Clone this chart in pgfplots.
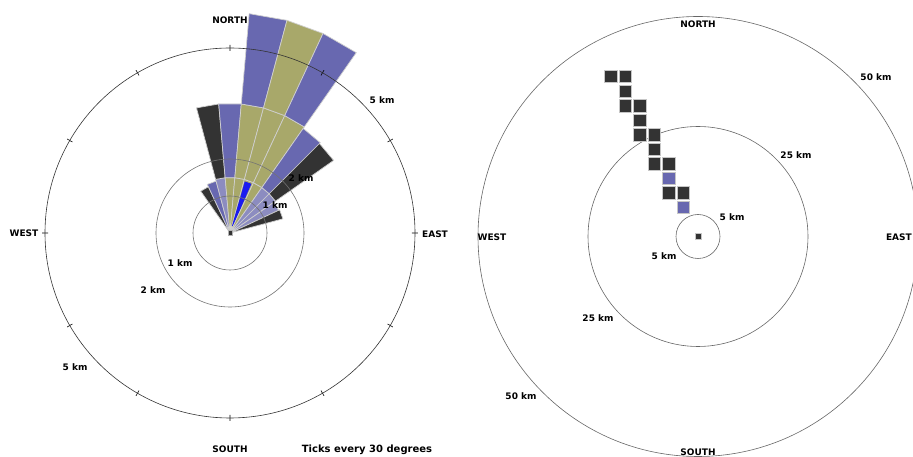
\documentclass[border=0pt]{standalone}
\usepackage{fontspec}
\setmainfont{DejaVu Sans}
\usepackage{pgfplots}
\pgfplotsset{compat=1.18}
\usepgfplotslibrary{polar}

\definecolor{wblue}{HTML}{6868B0}
\definecolor{wkhaki}{HTML}{A8A86A}
\definecolor{wdark}{HTML}{333333}
\definecolor{wlav}{HTML}{8C8CC0}
\definecolor{wbright}{HTML}{1A1AF0}
\definecolor{wline}{HTML}{CFCFCF}

\pgfplotsset{
  wedge/.style={draw=wline, line width=0.7pt},
}
\tikzset{
  lbl/.style={font=\bfseries\fontsize{9}{10}\selectfont, inner sep=0pt},
}

\begin{document}
\begin{tikzpicture}[x=1pt,y=1pt]
\useasboundingbox (0,0) rectangle (913,457);
\clip (0,0) rectangle (913,457);

% ---------------- left chart (compass bins of 10 degrees, radius in km) -------------
\begin{polaraxis}[
  at={(230pt,224pt)}, anchor=center,
  scale only axis, width=370pt, height=370pt,
  xmin=0, xmax=360, ymin=0, ymax=5,
  xtick={0,30,...,330}, xticklabels={},
  ytick={1,2}, yticklabels={},
  xmajorgrids=false, xminorgrids=false, ymajorgrids=true,
  y grid style={black!55, line width=0.6pt},
  x axis line style={black!80, line width=0.6pt},
  y axis line style={draw=none},
  xtick style={black, line width=0.6pt},
  ytick style={draw=none},
  major tick length=6pt, tick align=center,
  clip=false, axis on top,
]
% bin -30
\addplot[wedge, fill=wdark]  coordinates {(125,0) (125,1.38) (115,1.38) (115,0)} --cycle;
% bin -20
\addplot[wedge, fill=wblue]  coordinates {(115,0) (115,1.45) (105,1.45) (105,0)} --cycle;
% bin -10
\addplot[wedge, fill=wlav]   coordinates {(105,0) (105,1.5) (95,1.5) (95,0)} --cycle;
\addplot[wedge, fill=wdark]  coordinates {(105,1.5) (105,3.5) (95,3.5) (95,1.5)} --cycle;
% bin 0
\addplot[wedge, fill=wkhaki] coordinates {(95,0) (95,1.5) (85,1.5) (85,0)} --cycle;
\addplot[wedge, fill=wblue]  coordinates {(95,1.5) (95,3.5) (85,3.5) (85,1.5)} --cycle;
% bin 10
\addplot[wedge, fill=wkhaki] coordinates {(85,0) (85,1.5) (75,1.5) (75,0)} --cycle;
\addplot[wedge, fill=wkhaki] coordinates {(85,1.5) (85,3.5) (75,3.5) (75,1.5)} --cycle;
\addplot[wedge, fill=wblue]  coordinates {(85,3.5) (85,5.95) (75,5.95) (75,3.5)} --cycle;
% bin 20
\addplot[wedge, fill=wkhaki] coordinates {(75,0) (75,1.5) (65,1.5) (65,0)} --cycle;
\addplot[wedge, fill=wkhaki] coordinates {(75,1.5) (75,3.5) (65,3.5) (65,1.5)} --cycle;
\addplot[wedge, fill=wkhaki] coordinates {(75,3.5) (75,5.95) (65,5.95) (65,3.5)} --cycle;
\addplot[draw=none, fill=wbright] coordinates {(74,0.2) (74,1.45) (66.5,1.45) (66.5,0.2)} --cycle;
% bin 30
\addplot[wedge, fill=wkhaki] coordinates {(65,0) (65,1.5) (55,1.5) (55,0)} --cycle;
\addplot[wedge, fill=wkhaki] coordinates {(65,1.5) (65,3.5) (55,3.5) (55,1.5)} --cycle;
\addplot[wedge, fill=wblue]  coordinates {(65,3.5) (65,5.95) (55,5.95) (55,3.5)} --cycle;
% bin 40
\addplot[wedge, fill=wlav]   coordinates {(55,0) (55,1.5) (45,1.5) (45,0)} --cycle;
\addplot[wedge, fill=wblue]  coordinates {(55,1.5) (55,3.45) (45,3.45) (45,1.5)} --cycle;
% bin 50
\addplot[wedge, fill=wlav]   coordinates {(45,0) (45,1.5) (35,1.5) (35,0)} --cycle;
\addplot[wedge, fill=wdark]  coordinates {(45,1.5) (45,3.42) (35,3.42) (35,1.5)} --cycle;
% bin 60
\addplot[wedge, fill=wlav]   coordinates {(35,0) (35,1.45) (25,1.45) (25,0)} --cycle;
% bin 70
\addplot[wedge, fill=wdark]  coordinates {(25,0) (25,1.48) (15,1.48) (15,0)} --cycle;
% centre
\addplot[only marks, mark=square*, mark size=2.2pt, mark options={fill=wdark, draw=gray!60, line width=0.6pt}] coordinates {(0,0)};
\end{polaraxis}

% ---------------- right chart (cells, x/y in km) -------------
\begin{polaraxis}[
  at={(698pt,220.5pt)}, anchor=center,
  scale only axis, width=440pt, height=440pt,
  xmin=0, xmax=360, ymin=0, ymax=50,
  xtick=\empty,
  ytick={5,25}, yticklabels={},
  xmajorgrids=false, xminorgrids=false, ymajorgrids=true,
  y grid style={black!60, line width=0.6pt},
  x axis line style={black!60, line width=0.6pt},
  y axis line style={draw=none},
  ytick style={draw=none},
  clip=false,
]
\addplot[data cs=cart, only marks, mark=square*, mark size=6.2pt,
  mark options={fill=wdark, draw=gray!45, line width=1pt}] coordinates {
  (-3.3,9.9) (-6.6,9.9) (-6.6,16.5) (-9.9,16.5) (-9.9,19.8) (-9.9,23.1)
  (-13.2,23.1) (-13.2,26.4) (-13.2,29.7) (-16.5,29.7) (-16.5,33.0)
  (-16.5,36.3) (-19.8,36.3)
};
\addplot[data cs=cart, only marks, mark=square*, mark size=6.2pt,
  mark options={fill=wblue, draw=gray!45, line width=1pt}] coordinates {
  (-3.3,6.6) (-6.6,13.2)
};
\addplot[data cs=cart, only marks, mark=square*, mark size=3pt,
  mark options={fill=wdark, draw=gray!45, line width=0.8pt}] coordinates {(0,0)};
\end{polaraxis}

% ---------------- labels -------------
\node[lbl] at (230,437) {NORTH};
\node[lbl] at (230,8) {SOUTH};
\node[lbl] at (24,224) {WEST};
\node[lbl] at (435,223) {EAST};
\node[lbl] at (180,194) {1 km};
\node[lbl] at (153,167) {2 km};
\node[lbl] at (75,90) {5 km};
\node[lbl] at (275,252) {1 km};
\node[lbl] at (301,279) {2 km};
\node[lbl] at (382,357) {5 km};
\node[font=\bfseries\fontsize{10}{11}\selectfont, inner sep=0pt] at (367,7) {Ticks every 30 degrees};

\node[lbl] at (698,433) {NORTH};
\node[lbl] at (698,5) {SOUTH};
\node[lbl] at (492,220) {WEST};
\node[lbl, anchor=east] at (912,220) {EAST};
\node[lbl] at (876,380) {50 km};
\node[lbl] at (521,61) {50 km};
\node[lbl] at (796,302) {25 km};
\node[lbl] at (598,139) {25 km};
\node[lbl] at (732,240) {5 km};
\node[lbl] at (664,201) {5 km};
\end{tikzpicture}
\end{document}
